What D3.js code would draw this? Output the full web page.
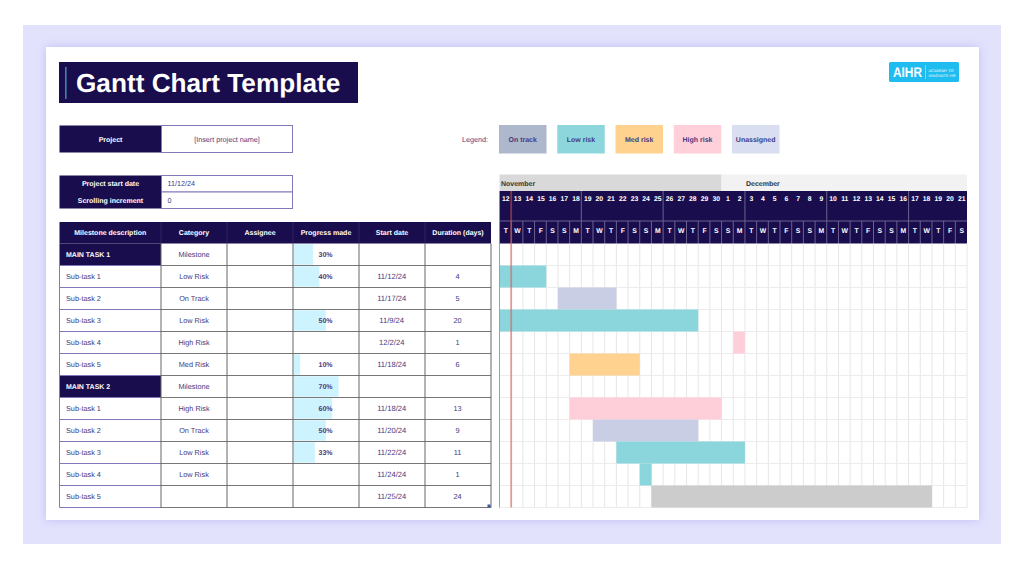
<!DOCTYPE html>
<html>
<head>
<meta charset="utf-8">
<title>Gantt Chart Template</title>
<script src="https://cdnjs.cloudflare.com/ajax/libs/d3/7.8.5/d3.min.js"></script>
<style>
  html, body { margin: 0; padding: 0; background: #fff; }
  svg { display: block; }
  text { font-family: "Liberation Sans", Arial, sans-serif; text-rendering: geometricPrecision; }
</style>
</head>
<body>
<svg width="1024" height="567"></svg>
<script>
// table data
var columnTitles = ["Milestone description", "Category", "Assignee", "Progress made", "Start date", "Duration (days)"];
var taskNames = ["MAIN TASK 1", "Sub-task 1", "Sub-task 2", "Sub-task 3", "Sub-task 4", "Sub-task 5",
                 "MAIN TASK 2", "Sub-task 1", "Sub-task 2", "Sub-task 3", "Sub-task 4", "Sub-task 5"];
var categories = ["Milestone", "Low Risk", "On Track", "Low Risk", "High Risk", "Med Risk",
                  "Milestone", "High Risk", "On Track", "Low Risk", "Low Risk", ""];
var progress = [30, 40, null, 50, null, 10, 70, 60, 50, 33, null, null];
var startDates = ["", "11/12/24", "11/17/24", "11/9/24", "12/2/24", "11/18/24",
                  "", "11/18/24", "11/20/24", "11/22/24", "11/24/24", "11/25/24"];
var durations = [null, 4, 5, 20, 1, 6, null, 13, 9, 11, 1, 24];

// legend and bar colours
var legendLabels = ["On track", "Low risk", "Med risk", "High risk", "Unassigned"];
var legendColors = ["#adb8cc", "#8dd7dc", "#ffd28f", "#ffd0d9", "#d9dff0"];
var barCategories = ["Low Risk", "On Track", "High Risk", "Med Risk", ""];
var barColors = ["#8bd6dc", "#c9cee5", "#ffcfd9", "#ffd28f", "#cccccc"];

var months = ["November", "December"];
var chartStart = "11/12/24";
var chartEnd = "12/22/24";
var monthBreak = "12/1/24";
var todayMarks = ["11/12/24", "11/13/24"];

var navy = "#1a0d4d";
var inkColor = "#463a82";
var purpleLine = "#8379b8";

var svg = d3.select("svg");
var parseDay = d3.utcParse("%m/%d/%y");

// page background
var defs = svg.append("defs");
defs.append("filter").attr("id", "cardShadow")
    .attr("x", "-5%").attr("y", "-5%").attr("width", "110%").attr("height", "110%")
    .append("feDropShadow")
    .attr("dx", 0).attr("dy", 0).attr("stdDeviation", 5)
    .attr("flood-color", "#b9b5f2").attr("flood-opacity", 0.8);

svg.append("rect").attr("x", 23).attr("y", 25).attr("width", 978).attr("height", 519).attr("fill", "#e2e2fd");
svg.append("rect").attr("x", 46).attr("y", 47).attr("width", 933).attr("height", 473)
    .attr("fill", "#fff").attr("filter", "url(#cardShadow)");

// title
svg.append("rect").attr("x", 59).attr("y", 62).attr("width", 299).attr("height", 41).attr("fill", navy);
svg.append("rect").attr("x", 65).attr("y", 67).attr("width", 1.6).attr("height", 32).attr("fill", "#3b86a8");
svg.append("text").attr("x", 76).attr("y", 92).attr("fill", "#fff")
    .attr("font-size", 26.2).attr("font-weight", "bold").text("Gantt Chart Template");

// logo
var logo = svg.append("g").attr("transform", "translate(889,62)");
logo.append("rect").attr("width", 70).attr("height", 20).attr("rx", 1.5).attr("fill", "#1fbcf0");
logo.append("text").attr("x", 4).attr("y", 15).attr("fill", "#fff").attr("font-size", 14)
    .attr("font-weight", "bold").attr("textLength", 29).attr("lengthAdjust", "spacingAndGlyphs").text("AIHR");
logo.append("rect").attr("x", 36).attr("y", 3).attr("width", 0.6).attr("height", 14).attr("fill", "#bfeafa");
logo.append("text").attr("x", 39.5).attr("y", 9.5).attr("fill", "#fff").attr("font-size", 3.8)
    .attr("textLength", 25).text("ACADEMY TO");
logo.append("text").attr("x", 39.5).attr("y", 14.5).attr("fill", "#fff").attr("font-size", 3.8)
    .attr("textLength", 27).text("INNOVATE HR");

// project boxes
function infoRow(y, h, label, value, anchorMiddle) {
    svg.append("rect").attr("x", 59.5).attr("y", y).attr("width", 102).attr("height", h).attr("fill", navy);
    svg.append("rect").attr("x", 161.5).attr("y", y).attr("width", 131).attr("height", h)
        .attr("fill", "#fff").attr("stroke", purpleLine);
    svg.append("text").attr("x", 110.5).attr("y", y + h / 2 + 2.5).attr("text-anchor", "middle")
        .attr("fill", "#fff").attr("font-size", 7).attr("font-weight", "bold").text(label);
    svg.append("text").attr("x", anchorMiddle ? 227 : 167.5).attr("y", y + h / 2 + 2.5)
        .attr("text-anchor", anchorMiddle ? "middle" : "start")
        .attr("fill", inkColor).attr("font-size", 7.2).text(value);
}
infoRow(125.5, 27, "Project", "[Insert project name]", true);
infoRow(175.5, 16.5, "Project start date", "11/12/24", false);
infoRow(192, 16.5, "Scrolling increment", "0", false);

// legend
svg.append("text").attr("x", 462).attr("y", 141.5).attr("fill", inkColor).attr("font-size", 7.2).text("Legend:");
var legendX = d3.scalePoint().domain(legendLabels).range([499, 732]);
var legend = svg.selectAll(".legend").data(legendLabels).enter().append("g")
    .attr("class", "legend")
    .attr("transform", function(d) { return "translate(" + legendX(d) + ",125)"; });
legend.append("rect").attr("width", 47.5).attr("height", 28.5)
    .attr("fill", function(d, i) { return legendColors[i]; });
legend.append("text").attr("x", 23.7).attr("y", 16.5).attr("text-anchor", "middle")
    .attr("fill", inkColor).attr("font-size", 7).attr("font-weight", "bold").text(function(d) { return d; });

// table
var tableTop = 222;
var headerBottom = 243.5;
var tableBottom = 507.5;
var colEdges = [59.5, 161, 227, 293, 359, 425, 491];
var rowScale = d3.scaleBand().domain(d3.range(taskNames.length)).range([headerBottom, tableBottom]);
var rowH = rowScale.bandwidth();
var progressScale = d3.scaleLinear().domain([0, 100]).range([0, 64]);

function colMid(i) { return (colEdges[i] + colEdges[i + 1]) / 2; }

svg.append("rect").attr("x", colEdges[0]).attr("y", tableTop)
    .attr("width", colEdges[6] - colEdges[0]).attr("height", headerBottom - tableTop).attr("fill", navy);

svg.selectAll(".colTitle").data(columnTitles).enter().append("text")
    .attr("class", "colTitle")
    .attr("x", function(d, i) { return colMid(i); }).attr("y", 235)
    .attr("text-anchor", "middle").attr("fill", "#fff")
    .attr("font-size", 7).attr("font-weight", "bold").text(function(d) { return d; });

// header column separators
svg.selectAll(".headSep").data(colEdges.slice(1, 6)).enter().append("line")
    .attr("class", "headSep")
    .attr("x1", function(d) { return d; }).attr("x2", function(d) { return d; })
    .attr("y1", tableTop).attr("y2", headerBottom)
    .attr("stroke", "#3a2e75").attr("stroke-width", 0.7);

var rows = svg.selectAll(".row").data(taskNames).enter().append("g")
    .attr("class", "row")
    .attr("transform", function(d, i) { return "translate(0," + rowScale(i) + ")"; });

// main task cells and progress bars
rows.each(function(d, i) {
    if (categories[i] === "Milestone") {
        d3.select(this).append("rect")
            .attr("x", colEdges[0]).attr("width", colEdges[1] - colEdges[0]).attr("height", rowH).attr("fill", navy);
    }
    if (progress[i] !== null) {
        d3.select(this).append("rect")
            .attr("x", colEdges[3] + 0.8).attr("y", 0.8)
            .attr("width", progressScale(progress[i]))
            .attr("height", rowH - 1.6).attr("fill", "#cdf3ff");
    }
});

rows.append("text").attr("x", 66).attr("y", rowH / 2 + 2.5)
    .attr("fill", function(d, i) { return categories[i] === "Milestone" ? "#fff" : inkColor; })
    .attr("font-size", function(d, i) { return categories[i] === "Milestone" ? 7 : 7.3; })
    .attr("font-weight", function(d, i) { return categories[i] === "Milestone" ? "bold" : "normal"; })
    .text(function(d) { return d; });
rows.append("text").attr("x", colMid(1)).attr("y", rowH / 2 + 2.5).attr("text-anchor", "middle")
    .attr("fill", inkColor).attr("font-size", 7.3).text(function(d, i) { return categories[i]; });
rows.append("text").attr("x", 325.5).attr("y", rowH / 2 + 2.5).attr("text-anchor", "middle")
    .attr("fill", inkColor).attr("font-size", 7).attr("font-weight", "bold")
    .text(function(d, i) { return progress[i] === null ? "" : progress[i] + "%"; });
rows.append("text").attr("x", colMid(4) - 0.3).attr("y", rowH / 2 + 2.5).attr("text-anchor", "middle")
    .attr("fill", inkColor).attr("font-size", 7.6).text(function(d, i) { return startDates[i]; });
rows.append("text").attr("x", colMid(5) - 0.5).attr("y", rowH / 2 + 2.5).attr("text-anchor", "middle")
    .attr("fill", inkColor).attr("font-size", 7.3)
    .text(function(d, i) { return durations[i] === null ? "" : durations[i]; });

// table rules
var rowLines = d3.range(1, taskNames.length + 1);
svg.selectAll(".hRuleLeft").data(rowLines).enter().append("line")
    .attr("class", "hRuleLeft")
    .attr("x1", colEdges[0]).attr("x2", colEdges[1])
    .attr("y1", function(d) { return headerBottom + d * rowH; })
    .attr("y2", function(d) { return headerBottom + d * rowH; })
    .attr("stroke", purpleLine);
svg.selectAll(".hRule").data(rowLines).enter().append("line")
    .attr("class", "hRule")
    .attr("x1", colEdges[1]).attr("x2", colEdges[6])
    .attr("y1", function(d) { return headerBottom + d * rowH; })
    .attr("y2", function(d) { return headerBottom + d * rowH; })
    .attr("stroke", "#777");
svg.selectAll(".vRule").data(colEdges).enter().append("line")
    .attr("class", "vRule")
    .attr("x1", function(d) { return d; }).attr("x2", function(d) { return d; })
    .attr("y1", headerBottom).attr("y2", tableBottom)
    .attr("stroke", function(d, i) { return i === 0 ? purpleLine : "#666"; });
svg.append("rect").attr("x", 487.5).attr("y", 504.5).attr("width", 3).attr("height", 3).attr("fill", "#3c5a9a");

// gantt timeline
var x = d3.scaleUtc().domain([parseDay(chartStart), parseDay(chartEnd)]).range([499.5, 967]).clamp(true);
var days = d3.utcDay.range(parseDay(chartStart), parseDay(chartEnd));
var dayW = x(days[1]) - x(days[0]);

// month strip
var monthBounds = [parseDay(chartStart), parseDay(monthBreak), parseDay(chartEnd)];
var monthFills = ["#d9d9d9", "#f2f2f2"];
var monthStrip = svg.selectAll(".month").data(months).enter().append("g").attr("class", "month");
monthStrip.append("rect")
    .attr("x", function(d, i) { return x(monthBounds[i]); }).attr("y", 174.5)
    .attr("width", function(d, i) { return x(monthBounds[i + 1]) - x(monthBounds[i]); })
    .attr("height", 16.5).attr("fill", function(d, i) { return monthFills[i]; });
monthStrip.append("text")
    .attr("x", function(d, i) { return i === 0 ? x(monthBounds[0]) + 1.5 : x(parseDay("12/3/24")) + 1; }).attr("y", 185.5)
    .attr("fill", "#333").attr("font-size", 7).attr("font-weight", "bold").text(function(d) { return d; });

// header bands
svg.append("rect").attr("x", x.range()[0]).attr("y", 191).attr("width", 467.5).attr("height", 52.5).attr("fill", navy);

// date numbers
var dateAxis = d3.axisBottom(x).tickValues(days).tickSize(0).tickPadding(0).tickFormat(d3.utcFormat("%-d"));
var dateG = svg.append("g").attr("transform", "translate(" + dayW / 2 + ",196)").call(dateAxis);
dateG.select(".domain").remove();
dateG.selectAll("text").attr("fill", "#fff").attr("font-size", 6.8).attr("font-weight", "bold")
    .attr("font-family", "Liberation Sans");

// weekday letters
var weekAxis = d3.axisBottom(x).tickValues(days).tickSize(0).tickPadding(0)
    .tickFormat(function(d) { return d3.utcFormat("%a")(d).charAt(0); });
var weekG = svg.append("g").attr("transform", "translate(" + dayW / 2 + ",228.5)").call(weekAxis);
weekG.select(".domain").remove();
weekG.selectAll("text").attr("fill", "#fff").attr("font-size", 6.8).attr("font-weight", "bold")
    .attr("font-family", "Liberation Sans");

// header separators
svg.append("line").attr("x1", x.range()[0]).attr("x2", x.range()[1]).attr("y1", 221).attr("y2", 221)
    .attr("stroke", "#6a6290");
svg.selectAll(".daySep").data(days.slice(1)).enter().append("line")
    .attr("class", "daySep")
    .attr("x1", function(d) { return x(d); }).attr("x2", function(d) { return x(d); })
    .attr("y1", 221).attr("y2", headerBottom).attr("stroke", "#6a6290");
svg.selectAll(".weekSep").data(days.filter(function(d) { return d.getUTCDay() === 2; }).slice(1)).enter().append("line")
    .attr("class", "weekSep")
    .attr("x1", function(d) { return x(d); }).attr("x2", function(d) { return x(d); })
    .attr("y1", 191).attr("y2", 221).attr("stroke", "#6a6290");

// grid
svg.selectAll(".gridV").data(days.concat([parseDay(chartEnd)])).enter().append("line")
    .attr("class", "gridV")
    .attr("x1", function(d) { return x(d); }).attr("x2", function(d) { return x(d); })
    .attr("y1", headerBottom).attr("y2", tableBottom).attr("stroke", "#e6e6e6");
svg.selectAll(".gridH").data(rowLines).enter().append("line")
    .attr("class", "gridH")
    .attr("x1", x.range()[0]).attr("x2", x.range()[1])
    .attr("y1", function(d) { return headerBottom + d * rowH; })
    .attr("y2", function(d) { return headerBottom + d * rowH; })
    .attr("stroke", "#ececec");

// gantt bars
var barColor = d3.scaleOrdinal().domain(barCategories).range(barColors);
svg.selectAll(".bar").data(d3.range(taskNames.length).filter(function(i) { return durations[i] !== null; }))
    .enter().append("rect")
    .attr("class", "bar")
    .attr("x", function(i) { return x(parseDay(startDates[i])); })
    .attr("y", function(i) { return rowScale(i); })
    .attr("width", function(i) {
        var s = parseDay(startDates[i]);
        return x(d3.utcDay.offset(s, durations[i])) - x(s);
    })
    .attr("height", rowH)
    .attr("fill", function(i) { return barColor(categories[i]); });

// today markers
svg.selectAll(".todayMark").data(todayMarks).enter().append("line")
    .attr("class", "todayMark")
    .attr("x1", function(d) { return x(parseDay(d)); }).attr("x2", function(d) { return x(parseDay(d)); })
    .attr("y1", 191).attr("y2", tableBottom)
    .attr("stroke", function(d, i) { return i === 0 ? "#e0705f" : "#d9534a"; })
    .attr("stroke-opacity", function(d, i) { return i === 0 ? 0.8 : 0.55; })
    .attr("stroke-width", function(d, i) { return i === 0 ? 1 : 1.8; });
</script>
</body>
</html>
